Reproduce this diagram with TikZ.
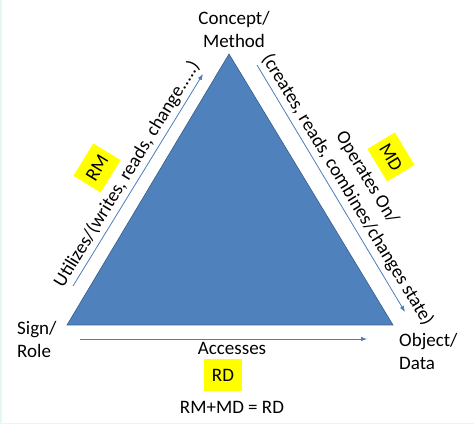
\documentclass[tikz,border=0pt]{standalone}
\usepackage{fontspec}
\setmainfont{Carlito}
\usetikzlibrary{arrows.meta}

\definecolor{triblue}{RGB}{79,129,189}
\definecolor{triedge}{RGB}{56,93,138}
\definecolor{arrblue}{RGB}{74,126,187}
\definecolor{tagyellow}{RGB}{255,255,0}
\definecolor{framegreen}{RGB}{228,248,238}

\tikzset{
  flow/.style={draw=arrblue, line width=0.8pt, -{Latex[length=6pt,width=4.5pt]}},
  tag/.style={fill=tagyellow, minimum width=38pt, minimum height=32pt, inner sep=0pt},
  lbl/.style={font=\fontsize{19}{23}\selectfont, inner sep=0pt}
}

\begin{document}
\begin{tikzpicture}[x=1pt, y=1pt]
        \useasboundingbox (0,0) rectangle (474,426);
        \draw[framegreen, line width=1.5pt] (0.75,426) -- (0.75,2.5) -- (474,2.5);

        \coordinate (M) at (229,372);
        \coordinate (S) at (67,101);
        \coordinate (O) at (393,101);

        \coordinate (l1) at (73,140);
        \coordinate (l2) at (203,352);
        \coordinate (r1) at (257,361);
        \coordinate (r2) at (405,114);
        \coordinate (b1) at (80,87);
        \coordinate (b2) at (367,87);

        \fill[triblue] (M) -- (S) -- (O) -- cycle;
        \draw[triedge, line width=0.6pt] (M) -- (S) -- (O) -- cycle;

        \draw[flow] (l1) -- (l2);
        \draw[flow] (r1) -- (r2);
        \draw[flow] (b1) -- (b2);

        \node[tag, lbl, rotate=58.5] (rm) at (97,258) {RM};
        \node[tag, lbl, rotate=-58.8] (md) at (391,269) {MD};
        \node[tag, lbl] (rd) at (223,51) {RD};

        \node[lbl, align=center] (concept) at (234,397) {Concept/\\Method};
        \node[lbl, align=left, anchor=west] (sign) at (17,87) {Sign/\\Role};
        \node[lbl, align=left, anchor=west] (object) at (399,75) {Object/\\Data};

        \node[lbl, rotate=58.5] (utilizes) at (127,252) {Utilizes/(writes, reads, change.....)};
        \node[lbl, align=center, rotate=-58.8] (operates) at (357,242) {Operates On/\\(creates, reads, combines/changes state)};
        \node[lbl] (accesses) at (232,78) {Accesses};

        \node[lbl] (sum) at (232,19) {RM+MD = RD};
\end{tikzpicture}
\end{document}
